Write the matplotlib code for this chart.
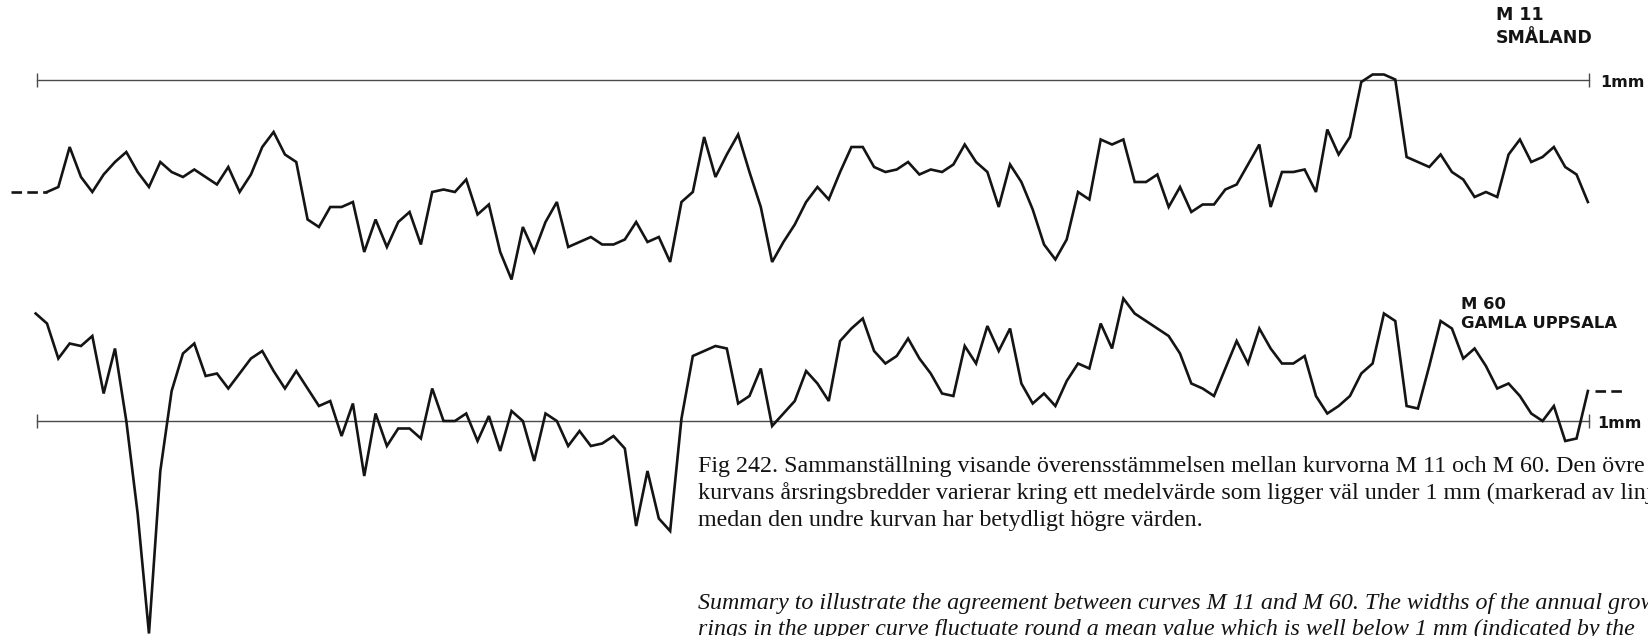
import numpy as np
import matplotlib.pyplot as plt

# årsringsbredd i 1/100 mm
# M 11 Småland, år 0..136
m11_first = 0
m11 = [55, 57, 73, 61, 55, 62, 67, 71, 63, 57,
       67, 63, 61, 64, 61, 58, 65, 55, 62, 73,
       79, 70, 67, 44, 41, 49, 49, 51, 31, 44,
       33, 43, 47, 34, 55, 56, 55, 60, 46, 50,
       31, 20, 41, 31, 43, 51, 33, 35, 37, 34,
       34, 36, 43, 35, 37, 27, 51, 55, 77, 61,
       70, 78, 63, 49, 27, 35, 42, 51, 57, 52,
       63, 73, 73, 65, 63, 64, 67, 62, 64, 63,
       66, 74, 67, 63, 49, 66, 59, 48, 34, 28,
       36, 55, 52, 76, 74, 76, 59, 59, 62, 49,
       57, 47, 50, 50, 56, 58, 66, 74, 49, 63,
       63, 64, 55, 80, 70, 77, 99, 102, 102, 100,
       69, 67, 65, 70, 63, 60, 53, 55, 53, 70,
       76, 67, 69, 73, 65, 62, 51]

# M 60 Gamla Uppsala, år -1..136
m60_first = -1
m60 = [143, 139, 125, 131, 130, 134, 111, 129, 100, 63,
       15, 80, 112, 127, 131, 118, 119, 113, 119, 125,
       128, 120, 113, 120, 113, 106, 108, 94, 107, 78,
       103, 90, 97, 97, 93, 113, 100, 100, 103, 92,
       102, 88, 104, 100, 84, 103, 100, 90, 96, 90,
       91, 94, 89, 58, 80, 61, 56, 101, 126, 128,
       130, 129, 107, 110, 121, 98, 103, 108, 120, 115,
       108, 132, 137, 141, 128, 123, 126, 133, 125, 119,
       111, 110, 130, 123, 138, 128, 137, 115, 107, 111,
       106, 116, 123, 121, 139, 129, 149, 143, 140, 137,
       134, 127, 115, 113, 110, 121, 132, 123, 137, 129,
       123, 123, 126, 110, 103, 106, 110, 119, 123, 143,
       140, 106, 105, 122, 140, 137, 125, 129, 122, 113,
       115, 110, 103, 100, 106, 92, 93, 112]

ref = 100  # 1 mm

W, H = 1649, 636
fig = plt.figure(figsize=(W / 100, H / 100), dpi=100)

upp = 0.4              # 1/100 mm per pixel
x0, step = 47, 11.33   # pixel för år 0, pixel per år


def panel(ref_px):
    ax = fig.add_axes([0, 0, 1, 1])
    ax.set_xlim(-x0 / step, (W - x0) / step)
    ax.set_ylim(ref - (H - ref_px) * upp, ref + ref_px * upp)
    ax.axis('off')
    ax.patch.set_alpha(0)
    return ax


ink = '#141414'
grey = '#4a4a4a'
lw = 1.9

# övre kurvan
ax1 = panel(79.5)
x1 = np.arange(len(m11)) + m11_first
ax1.plot([-0.9, 136.1], [ref, ref], color=grey, lw=1.0)
ax1.plot([-0.9, 136.1], [ref, ref], ls='none', marker='|', ms=10, mew=1.0, color=grey)
ax1.plot(x1, m11, color=ink, lw=lw, solid_joinstyle='miter')
ax1.plot([-3.18, x1[0]], [m11[0], m11[0]], color=ink, lw=lw, ls=(0, (4, 2)))
ax1.text(137.1, ref - 1.2, '1mm', va='center', ha='left', fontsize=11.5,
         fontweight='bold', family='DejaVu Sans', color=ink)

# undre kurvan
ax2 = panel(421)
x2 = np.arange(len(m60)) + m60_first
ax2.plot([-0.9, 136.1], [ref, ref], color=grey, lw=1.0)
ax2.plot([-0.9, 136.1], [ref, ref], ls='none', marker='|', ms=10, mew=1.0, color=grey)
ax2.plot(x2, m60, color=ink, lw=lw, solid_joinstyle='miter')
ax2.plot([136.6, 139.1], [m60[-1], m60[-1]], color=ink, lw=lw, ls=(0, (4, 2)))
ax2.text(136.8, ref - 1.2, '1mm', va='center', ha='left', fontsize=11.5,
         fontweight='bold', family='DejaVu Sans', color=ink)

# namn på kurvorna
fig.text(1496 / W, 1 - 6 / H, 'M 11\nSMÅLAND', va='top', ha='left',
         fontsize=12.5, fontweight='bold', family='DejaVu Sans',
         linespacing=1.35, color=ink)
fig.text(1461 / W, 1 - 297 / H, 'M 60\nGAMLA UPPSALA', va='top', ha='left',
         fontsize=11.8, fontweight='bold', family='DejaVu Sans',
         linespacing=1.3, color=ink)

# figurtext
sv = ['Fig 242. Sammanställning visande överensstämmelsen mellan kurvorna M 11 och M 60. Den övre',
      'kurvans årsringsbredder varierar kring ett medelvärde som ligger väl under 1 mm (markerad av linjen),',
      'medan den undre kurvan har betydligt högre värden.']
en = ['Summary to illustrate the agreement between curves M 11 and M 60. The widths of the annual growth',
      'rings in the upper curve fluctuate round a mean value which is well below 1 mm (indicated by the']
for i, s in enumerate(sv):
    fig.text(698 / W, 1 - (472 + 27 * i) / H, s, va='baseline', ha='left',
             fontsize=17.3, family='Liberation Serif', color=ink)
for i, s in enumerate(en):
    fig.text(698 / W, 1 - (609 + 26 * i) / H, s, va='baseline', ha='left',
             fontsize=17.3, family='Liberation Serif', style='italic', color=ink)

fig.savefig('out.png', dpi=100, facecolor='white')
